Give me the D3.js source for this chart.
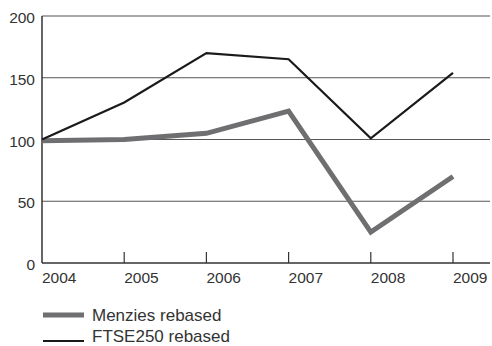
<!DOCTYPE html>
<html><head><meta charset="utf-8">
<script src="https://cdn.jsdelivr.net/npm/d3@7"></script>
<style>body{margin:0;background:#fff}svg text{font-family:"Liberation Sans",Arial,sans-serif;font-size:15.5px;fill:#333}</style>
</head><body><svg id="c" width="492" height="346"></svg>
<script>
const years = ["2004","2005","2006","2007","2008","2009"];
const menzies = [99, 100, 105, 123, 25, 70];
const ftse = [100, 130, 170, 165, 101, 154];
const yTicks = [0, 50, 100, 150, 200];
const seriesNames = ["Menzies rebased", "FTSE250 rebased"];

const svg = d3.select("#c");
const x = d3.scalePoint().domain(years).range([42, 453]);
const y = d3.scaleLinear().domain([0, 200]).range([263, 16]);
const right = 490;

svg.append("g").selectAll("line").data(yTicks.filter(d => d > 0)).join("line")
  .attr("x1", 42).attr("x2", right).attr("y1", d => y(d)).attr("y2", d => y(d))
  .attr("stroke", "#555").attr("stroke-width", 1.2);

svg.append("g").selectAll("text").data(yTicks).join("text")
  .attr("x", 35).attr("y", d => y(d) + 7).attr("text-anchor", "end").text(d => d);

svg.append("line").attr("x1", 42).attr("x2", 42).attr("y1", y(200)).attr("y2", y(0)).attr("stroke", "#333").attr("stroke-width", 1.5);
svg.append("line").attr("x1", 42).attr("x2", right).attr("y1", y(0)).attr("y2", y(0)).attr("stroke", "#333").attr("stroke-width", 1.5);
svg.append("g").selectAll("line").data(years.slice(1)).join("line")
  .attr("x1", d => x(d)).attr("x2", d => x(d)).attr("y1", y(0)).attr("y2", y(0) - 11)
  .attr("stroke", "#333").attr("stroke-width", 1.2);
svg.append("g").selectAll("text").data(years).join("text")
  .attr("x", d => x(d)).attr("y", 283).text(d => d);

const line = d3.line().x((d, i) => x(years[i])).y(d => y(d));
svg.append("path").datum(menzies).attr("d", line).attr("fill", "none")
  .attr("stroke", "#6f6f71").attr("stroke-width", 5);
svg.append("path").datum(ftse).attr("d", line).attr("fill", "none")
  .attr("stroke", "#1a1a1a").attr("stroke-width", 2.2);

const leg = [{n: seriesNames[0], c: "#6f6f71", w: 5, ly: 315, ty: 321}, {n: seriesNames[1], c: "#1a1a1a", w: 2.2, ly: 341, ty: 342}];
const lg = svg.append("g").selectAll("g").data(leg).join("g");
lg.append("line").attr("x1", 43).attr("x2", 84).attr("y1", d => d.ly).attr("y2", d => d.ly)
  .attr("stroke", d => d.c).attr("stroke-width", d => d.w);
lg.append("text").attr("x", 92).attr("y", d => d.ty).style("font-size", "17px").text(d => d.n);
</script></body></html>
